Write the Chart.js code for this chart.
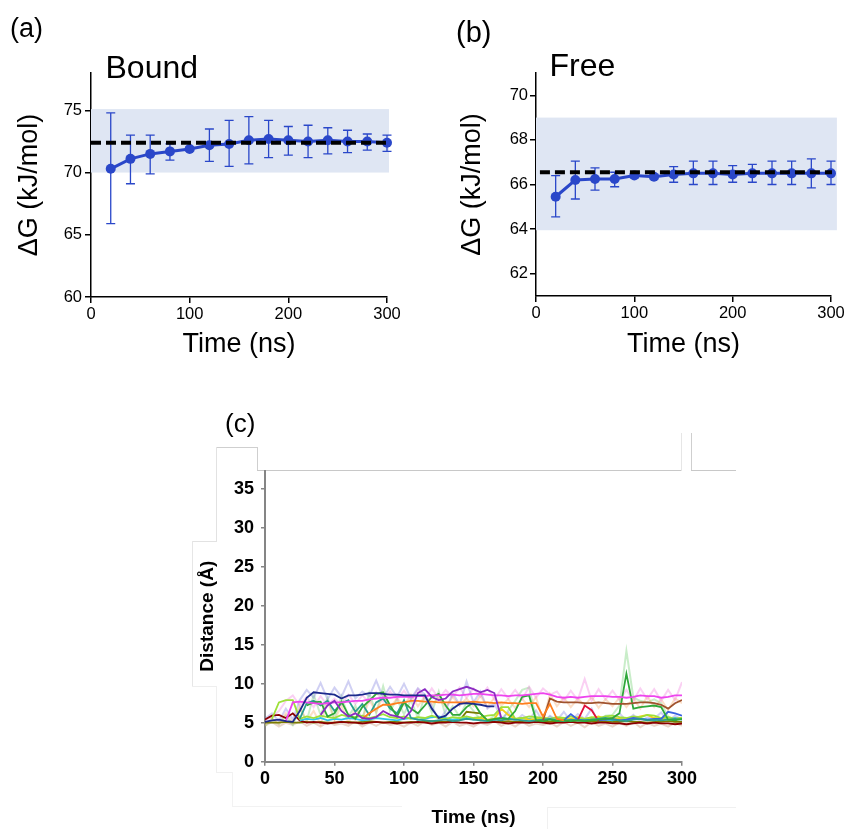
<!DOCTYPE html>
<html><head><meta charset="utf-8">
<script src="https://cdn.jsdelivr.net/npm/chart.js@4.4.1/dist/chart.umd.min.js"></script>
<style>
html,body{margin:0;padding:0;background:#fff;}
body{width:847px;height:829px;position:relative;overflow:hidden;font-family:"Liberation Sans",Arial,Helvetica,sans-serif;}
.cw{position:absolute;}
.lbl{position:absolute;line-height:1;white-space:nowrap;color:#000;}
.ln{position:absolute;}
</style></head><body>
<!-- faint frame remnants around panel (c) -->
<div class="ln" style="left:216px;top:447px;width:42px;height:1px;background:#cfcfcf"></div>
<div class="ln" style="left:257px;top:447px;width:1px;height:24px;background:#cfcfcf"></div>
<div class="ln" style="left:257px;top:470px;width:425px;height:1px;background:#c8c8c8"></div>
<div class="ln" style="left:681px;top:433px;width:1px;height:38px;background:#e6e6e6"></div>
<div class="ln" style="left:691px;top:433px;width:1px;height:38px;background:#cfcfcf"></div>
<div class="ln" style="left:691px;top:470px;width:45px;height:1px;background:#c8c8c8"></div>
<div class="ln" style="left:216px;top:447px;width:1px;height:94px;background:#e2e2e2"></div>
<div class="ln" style="left:192px;top:541px;width:25px;height:1px;background:#e2e2e2"></div>
<div class="ln" style="left:192px;top:541px;width:1px;height:145px;background:#e6e6e6"></div>
<div class="ln" style="left:192px;top:686px;width:24px;height:1px;background:#eeeeee"></div>
<div class="ln" style="left:216px;top:686px;width:1px;height:86px;background:#efefef"></div>
<div class="ln" style="left:216px;top:772px;width:16px;height:1px;background:#f0f0f0"></div>
<div class="ln" style="left:232px;top:772px;width:1px;height:34px;background:#f2f2f2"></div>
<div class="ln" style="left:232px;top:806px;width:170px;height:1px;background:#f2f2f2"></div>
<div class="ln" style="left:547px;top:807px;width:189px;height:1px;background:#f0f0f0"></div>
<div class="ln" style="left:547px;top:807px;width:1px;height:22px;background:#f0f0f0"></div>

<div class="cw" style="left:0;top:0;width:420px;height:370px"><canvas id="cA" width="420" height="370"></canvas></div>
<div class="cw" style="left:420px;top:0;width:427px;height:370px"><canvas id="cB" width="427" height="370"></canvas></div>
<div class="cw" style="left:180px;top:420px;width:560px;height:409px"><canvas id="cC" width="560" height="409"></canvas></div>

<div class="lbl" style="left:10px;top:14.6px;font-size:27px">(a)</div>
<div class="lbl" style="left:105.5px;top:50.9px;font-size:32px">Bound</div>
<div class="lbl" style="left:456px;top:17.7px;font-size:29px">(b)</div>
<div class="lbl" style="left:549.5px;top:48.9px;font-size:32px">Free</div>
<div class="lbl" style="left:225px;top:409.5px;font-size:26px">(c)</div>

<script>
// ---------- Data: panels (a) and (b) ----------
const timeAB = [20,40,60,80,100,120,140,160,180,200,220,240,260,280,300];

const boundMean   = [70.3,71.1,71.5,71.7,71.9,72.2,72.3,72.6,72.7,72.6,72.5,72.6,72.5,72.5,72.4];
const boundErrLow = [65.9,69.1,69.9,71.0,71.75,70.9,70.5,70.7,71.2,71.4,71.2,71.5,71.6,71.8,71.7];
const boundErrHigh= [74.8,73.0,73.0,72.3,72.05,73.5,74.2,74.5,74.2,73.7,73.8,73.6,73.4,73.1,73.0];
const boundRef = 72.4;
const boundBand = [70.0, 75.1];
const boundYTicks = [60,65,70,75];

const freeMean   = [65.45,66.2,66.25,66.25,66.4,66.35,66.45,66.5,66.5,66.45,66.5,66.5,66.5,66.5,66.5];
const freeErrLow = [64.55,65.35,65.75,65.9,66.3,66.25,66.1,66.0,66.0,66.1,66.1,66.0,66.0,65.85,66.0];
const freeErrHigh= [66.4,67.05,66.75,66.55,66.5,66.45,66.8,67.05,67.05,66.85,66.9,67.05,67.05,67.15,67.05];
const freeRef = 66.55;
const freeBand = [63.95, 69.0];
const freeYTicks = [62,64,66,68,70];

const timeABTicks = [0,100,200,300];

// ---------- Data: panel (c) ----------
const timeC = [0,5,10,15,20,25,30,35,40,45,50,55,60,65,70,75,80,85,90,95,100,105,110,115,120,125,130,135,140,145,150,155,160,165,170,175,180,185,190,195,200,205,210,215,220,225,230,235,240,245,250,255,260,265,270,275,280,285,290,295,300];
const distYTicks = [0,5,10,15,20,25,30,35];
const distXTicks = [0,50,100,150,200,250,300];

const sNavy = [5.1,5.3,5.4,5.2,5.1,6.5,8.2,8.9,8.8,8.7,8.6,8.1,8.5,8.5,8.6,8.8,8.8,8.7,8.6,8.6,8.5,8.5,8.5,8.5,6.8,5.6,5.9,6.8,7.4,7.5,7.4,7.3,7.1,7.1];
const sMagenta = [null,null,null,5.2,7.6,7.7,7.6,7.5,7.4,7.5,7.6,7.6,7.7,7.8,7.8,8.0,8.1,8.2,8.2,8.3,8.3,8.3,8.4,8.4,8.5,8.5,8.6,8.6,8.5,8.6,8.7,8.7,8.6,8.5,8.5,8.4,8.5,8.5,8.6,8.7,8.8,8.6,8.3,8.2,8.3,8.2,8.3,8.4,8.4,8.4,8.3,8.3,8.2,8.3,8.5,8.4,8.4,8.2,8.3,8.5,8.5];
const sPurple = [null,null,null,null,null,null,null,null,6.0,7.2,7.8,6.5,5.8,6.2,5.6,5.5,5.7,6.5,6.0,5.8,5.5,6.5,8.8,9.3,8.3,7.9,8.1,9.0,9.3,9.6,9.3,8.9,9.2,8.8,5.6];
const sOrange = [null,null,null,null,null,null,null,null,null,null,null,null,null,null,5.5,6.2,6.8,7.3,7.3,7.5,7.6,7.8,7.8,7.7,7.7,7.6,7.6,7.6,7.6,7.6,7.7,7.6,7.6,7.5,7.6,7.5,7.5,7.4,7.5,7.5,5.8,7.4,5.5,5.3];
const sBrown = [null,null,null,null,null,null,null,null,null,null,null,null,null,null,null,null,null,null,null,null,null,null,null,null,null,null,null,null,null,null,null,null,null,null,null,null,null,null,null,null,5.3,8.1,7.7,7.6,7.6,7.6,7.5,7.5,7.6,7.5,7.4,7.4,7.4,7.5,7.6,7.6,7.5,7.3,6.8,7.5,7.9];
const sGreen = [null,null,null,null,null,null,7.2,7.6,7.7,5.8,6.2,7.7,6.0,5.5,7.0,7.8,8.7,8.9,7.2,5.8,7.6,6.8,6.2,7.2,8.3,8.7,7.2,6.0,6.0,7.0,7.6,6.2,5.3,5.5,5.6,5.5,6.5,8.3,8.5,5.3,5.2,5.4,5.2,5.3,5.2,5.3,5.2,5.3,5.4,5.5,5.6,6.2,11.3,6.8,7.0,7.1,7.2,7.0,5.4,5.3,5.5];
const sTeal = [null,null,null,null,null,5.5,7.5,7.8,7.2,7.8,6.5,7.5,7.9,6.4,7.4,6.0,7.6,8.1,6.8,6.2,7.9,5.6,5.4,5.3,5.2,5.3,5.4,5.2,5.3,5.5,5.4,5.3,5.2,5.4,5.3,5.5,5.4,5.3,5.2,5.3,5.4,5.5,5.3,5.2,5.4,5.3,5.3,5.4,5.5,5.6,5.4,5.3,5.2,5.4,5.5,5.3,5.4,5.3,5.4,5.5,5.4];
const sLime = [null,5.5,7.6,7.9,7.9,5.5,5.8,5.6,5.9,5.7,5.6,6.0,5.8,5.7,5.9,5.6,5.8,6.1,5.7,5.6,5.8,5.5,5.7,5.6,5.9,5.6,5.5,5.7,5.6,5.8,5.6,5.7,5.9,6.0,7.0,7.0,5.5,5.6,5.8,5.7,5.6,5.5,5.7,5.6,5.8,5.6,5.5,5.7,5.6,5.8,5.9,5.7,5.6,5.8,5.7,6.0,5.9,5.6,5.7,5.5,5.6];
const sDarkRed = [5.4,5.9,6.0,5.6,6.2,5.3,5.0,5.1,5.0,4.9,5.0,5.1,5.0,5.0,4.9,5.0,5.1,5.0,5.0,4.9,5.0,5.0,5.1,5.0,4.9,5.0,5.0,5.1,5.0,5.0,4.9,5.0,5.0,5.1,5.0,4.9,5.0,5.0,5.0,5.1,5.0,4.9,5.0,5.0,5.1,5.0,5.0,4.9,5.0,5.0,4.9,4.9,4.8,4.9,5.0,4.9,5.0,4.9,4.9,4.8,4.9];
const sOlive = [5.0,5.0,5.0,5.1,5.0,5.0,5.1,5.0,5.1,5.0,5.0,5.1,5.1,5.0,5.1,5.2,5.1,5.0,5.1,5.1,5.0,5.1,5.0,5.1,5.2,5.1,5.1,5.2,5.3,6.4,6.3,6.2,5.2,5.1,5.1,5.2,5.1,5.1,5.0,5.1,5.1,5.1,5.2,5.1,5.1,5.0,5.1,5.2,5.1,5.2,5.1,5.1,5.2,5.1,5.1,5.0,5.1,5.1,5.2,5.1,5.1];
const sCrimson = [null,null,null,null,null,null,null,null,null,null,null,null,null,null,null,null,null,null,null,null,null,null,null,null,null,null,null,null,null,null,null,null,null,null,null,null,null,null,null,null,null,null,null,null,null,5.3,7.2,6.6,5.2];
const sBlue = [null,null,null,null,null,null,null,null,null,null,null,null,null,null,null,null,null,null,null,null,null,null,null,null,null,null,null,null,null,null,null,null,null,null,null,null,null,null,null,null,null,null,null,5.3,6.1,5.4,5.3,5.4,5.3,5.4,5.5,5.3,5.4,5.6,5.5,5.4,5.5,5.5,6.4,6.2,5.9];
const sYellow = [null,null,null,null,null,null,null,null,null,null,null,null,null,null,null,null,null,null,null,null,null,null,null,null,null,null,null,null,null,null,5.5,5.6,5.4,5.5,6.8,6.0,5.5,5.6,5.4,5.5,5.6,5.5,5.4,5.6,5.5,5.7,5.5,5.6,5.8,5.5,5.6,5.5,5.4,5.6,5.8,6.0,5.6,5.5,5.4,5.5,5.6];
const sCyan = [null,null,null,null,null,5.3,5.5,5.4,5.6,5.3,5.5,5.4,5.6,5.5,5.3,5.4,5.6,5.5,5.4,5.3,5.5,5.6,5.4,5.5,5.7,5.8,5.6,5.4,5.5,5.6,5.4,5.5,5.3,5.4,5.6,5.5,5.4,5.6,5.5,5.3,5.4,5.5,5.6,5.4,5.5,5.3,5.4,5.6,5.5,5.4,5.3,5.5,5.4,5.6,5.5,5.4,5.3,5.5,5.4,5.6,5.5];

// faint raw traces
const rLavender = [5.5,6.2,5.2,6.8,5.4,7.9,9.2,8.2,10.1,8.0,9.5,8.3,10.3,8.1,9.0,8.4,10.4,8.2,9.6,8.3,10.0,8.1,9.4,8.6,7.2,5.3,6.5,8.8,7.3,10.3,7.6,9.0,6.8,7.5,5.5,6.3,5.2,6.0,5.4,6.6,5.1,5.9,5.3,6.4,5.2,6.1,5.5,6.8,5.0,5.8,5.4,6.2,5.3,6.0,5.1,5.7,5.5,6.3,5.2,5.9,5.4];
const rPink = [5.3,5.8,6.5,7.8,8.5,7.2,8.3,7.0,8.4,7.2,8.1,7.3,8.6,7.4,8.5,7.6,8.9,7.7,9.0,7.9,9.1,7.8,9.3,8.0,9.4,8.1,9.2,8.3,9.5,8.2,9.4,8.3,9.5,8.0,9.3,8.1,9.2,8.0,9.6,8.2,9.4,8.6,9.0,7.8,9.1,7.9,10.6,7.8,9.3,8.0,9.1,7.9,9.2,7.8,9.4,8.0,9.3,7.8,9.2,7.9,10.2];
const rPeach = [4.7,5.6,4.8,6.2,5.0,7.1,5.2,6.5,4.8,7.8,5.3,7.2,5.0,6.8,5.5,7.9,6.4,8.4,7.0,8.1,7.2,8.6,7.1,8.4,7.3,8.2,7.0,8.3,7.2,8.1,7.1,8.5,7.0,8.2,7.2,8.0,6.9,8.1,7.0,8.3,5.2,8.7,7.1,8.2,7.0,8.1,7.2,8.3,6.9,8.0,7.1,8.2,7.0,8.1,6.8,8.4,7.0,8.0,6.6,8.1,7.5];
const rMint = [4.6,5.4,4.8,5.9,4.7,6.8,5.2,8.6,6.0,8.2,5.5,8.4,5.8,7.2,5.4,8.8,6.2,9.7,6.5,8.0,6.1,7.9,5.6,8.5,6.3,9.0,5.9,7.1,5.8,7.6,6.5,5.4,5.2,5.9,5.1,6.6,7.8,9.2,9.5,5.6,5.1,5.8,5.0,5.6,5.2,5.7,5.1,5.6,5.3,5.9,6.0,7.2,14.2,8.2,7.8,7.6,8.0,7.5,5.8,5.4,5.6];
const rSand = [4.6,5.1,4.5,5.0,4.7,5.2,4.6,5.0,4.5,5.1,4.7,4.9,4.6,5.2,4.5,5.0,4.6,5.1,4.7,4.9,4.5,5.0,4.6,5.2,4.7,5.0,4.5,5.1,4.6,4.9,4.5,5.0,4.7,5.2,4.6,5.0,4.5,5.1,4.6,4.9,4.7,5.0,4.5,5.1,4.6,5.0,4.4,5.1,4.6,4.9,4.5,5.0,4.6,5.1,4.4,5.0,4.6,4.9,4.5,5.0,4.6];

// ---------- Rendering ----------
const FONT = '"Liberation Sans", Arial, Helvetica, sans-serif';
const BLUE = '#2a47c9';
const BAND = '#dfe6f3';

function toXY(xs, ys){ const out=[]; for(let i=0;i<xs.length;i++){ if(i<ys.length) out.push({x:xs[i], y:ys[i]}); } return out; }

function makeFE(id, o){
  const bandErr = {
    id:'bandErr',
    beforeDatasetsDraw(chart){
      const {ctx, scales:{x,y}} = chart;
      ctx.save();
      ctx.fillStyle = BAND;
      const x0=x.getPixelForValue(o.bandX[0]), x1=x.getPixelForValue(o.bandX[1]);
      const y0=y.getPixelForValue(o.band[1]), y1=y.getPixelForValue(o.band[0]);
      ctx.fillRect(x0,y0,x1-x0,y1-y0);
      ctx.strokeStyle = BLUE; ctx.lineWidth = 1.3;
      o.xs.forEach((t,i)=>{
        const px=x.getPixelForValue(t), lo=y.getPixelForValue(o.lo[i]), hi=y.getPixelForValue(o.hi[i]);
        ctx.beginPath();
        ctx.moveTo(px,lo); ctx.lineTo(px,hi);
        ctx.moveTo(px-4.5,lo); ctx.lineTo(px+4.5,lo);
        ctx.moveTo(px-4.5,hi); ctx.lineTo(px+4.5,hi);
        ctx.stroke();
      });
      ctx.restore();
    }
  };
  return new Chart(document.getElementById(id), {
    type:'line',
    data:{datasets:[
      {data:toXY(o.refX,[o.ref,o.ref]), borderColor:'#000', borderWidth:4, borderDash:[10,5], pointRadius:0, clip:false},
      {data:toXY(o.xs,o.mean), borderColor:BLUE, backgroundColor:BLUE, borderWidth:3, pointRadius:5, pointBorderWidth:0, pointBackgroundColor:BLUE, clip:false, tension:0}
    ]},
    options:{
      responsive:false, animation:false, devicePixelRatio:1,
      layout:{padding:{left:0,right:o.padRight,top:73,bottom:0}},
      plugins:{legend:{display:false}, tooltip:{enabled:false}},
      scales:{
        x:{type:'linear', min:0, max:300,
          afterBuildTicks:s=>{s.ticks=timeABTicks.map(v=>({value:v}));},
          afterFit:s=>{s.height=o.xH; s.paddingLeft=0; s.paddingRight=0;},
          border:{display:true,color:'#000',width:1.5},
          grid:{drawOnChartArea:false,drawTicks:true,tickLength:6,color:'#000',lineWidth:1.5},
          ticks:{font:{family:FONT,size:16.5},color:'#000',padding:2,maxRotation:0,autoSkip:false},
          title:{display:true,text:'Time (ns)',font:{family:FONT,size:27},color:'#000',padding:{top:0,bottom:8.8}}
        },
        y:{type:'linear', min:o.yMin, max:o.yMax,
          afterBuildTicks:s=>{s.ticks=o.yTicks.map(v=>({value:v}));},
          afterFit:s=>{s.width=o.yW; s.paddingTop=0; s.paddingBottom=0;},
          border:{display:true,color:'#000',width:1.5},
          grid:{drawOnChartArea:false,drawTicks:true,tickLength:6,color:'#000',lineWidth:1.5},
          ticks:{font:{family:FONT,size:16.5},color:'#000',padding:o.yTickPad,autoSkip:false},
          title:{display:true,text:'ΔG (kJ/mol)',font:{family:FONT,size:27},color:'#000',padding:{top:o.yTitlePad,bottom:0}}
        }
      }
    },
    plugins:[bandErr]
  });
}

makeFE('cA',{xs:timeAB, mean:boundMean, lo:boundErrLow, hi:boundErrHigh, ref:boundRef, refX:[0,301], band:boundBand, bandX:[0,302],
  yMin:60, yMax:78, yTicks:boundYTicks, yW:91, padRight:33, xH:73, yTickPad:3, yTitlePad:13.3});
makeFE('cB',{xs:timeAB, mean:freeMean, lo:freeErrLow, hi:freeErrHigh, ref:freeRef, refX:[4,301], band:freeBand, bandX:[0,306],
  yMin:61, yMax:71, yTicks:freeYTicks, yW:116, padRight:16, xH:74, yTickPad:2, yTitlePad:36.8});

// panel (c)
const mainSeries = [
  [sNavy,'#1c2a8c'],[sPurple,'#8a2bc2'],[sMagenta,'#ee44ee'],[sOrange,'#ff7f1e'],[sBrown,'#a0522d'],
  [sGreen,'#2fa83a'],[sTeal,'#2a9d8f'],[sCrimson,'#e0103a'],[sBlue,'#3b62e0'],[sLime,'#9ee03a'],
  [sYellow,'#f2d21b'],[sCyan,'#2ec4e6'],[sDarkRed,'#8b0000'],[sOlive,'#7b7b00']
];
const faintSeries = [
  [rLavender,'rgba(120,120,220,0.35)'],[rPink,'rgba(240,120,220,0.35)'],[rPeach,'rgba(245,170,110,0.38)'],
  [rMint,'rgba(120,210,120,0.4)'],[rSand,'rgba(200,150,120,0.38)']
];
const dsC = [];
mainSeries.forEach(([v,c])=>dsC.push({data:toXY(timeC,v), borderColor:c, borderWidth:1.8, pointRadius:0, tension:0, spanGaps:false, order:1}));
faintSeries.forEach(([v,c])=>dsC.push({data:toXY(timeC,v), borderColor:c, borderWidth:2, pointRadius:0, tension:0, order:5}));

const GRAY = '#858585';
new Chart(document.getElementById('cC'), {
  type:'line',
  data:{datasets:dsC},
  options:{
    responsive:false, animation:false, devicePixelRatio:1,
    layout:{padding:{left:0,right:58,top:50.7,bottom:0}},
    plugins:{legend:{display:false}, tooltip:{enabled:false}},
    scales:{
      x:{type:'linear',min:0,max:300,
        afterBuildTicks:s=>{s.ticks=distXTicks.map(v=>({value:v}));},
        afterFit:s=>{s.height=67.3; s.paddingLeft=0; s.paddingRight=0;},
        border:{display:true,color:GRAY,width:2},
        grid:{drawOnChartArea:false,drawTicks:true,tickLength:4,color:GRAY,lineWidth:1.5},
        ticks:{font:{family:FONT,size:18,weight:'bold'},color:'#000',padding:3,maxRotation:0,autoSkip:false},
        title:{display:true,text:'Time (ns)',font:{family:FONT,size:19,weight:'bold'},color:'#000',padding:{top:0,bottom:0}}
      },
      y:{type:'linear',min:0,max:37.3,
        afterBuildTicks:s=>{s.ticks=distYTicks.map(v=>({value:v}));},
        afterFit:s=>{s.width=85; s.paddingTop=0; s.paddingBottom=0;},
        border:{display:true,color:GRAY,width:2},
        grid:{drawOnChartArea:false,drawTicks:true,tickLength:4,color:GRAY,lineWidth:1.5},
        ticks:{font:{family:FONT,size:18,weight:'bold'},color:'#000',padding:7,autoSkip:false},
        title:{display:true,text:'Distance (Å)',font:{family:FONT,size:19,weight:'bold'},color:'#000',padding:{top:16,bottom:0}}
      }
    }
  }
});
</script>
</body></html>
